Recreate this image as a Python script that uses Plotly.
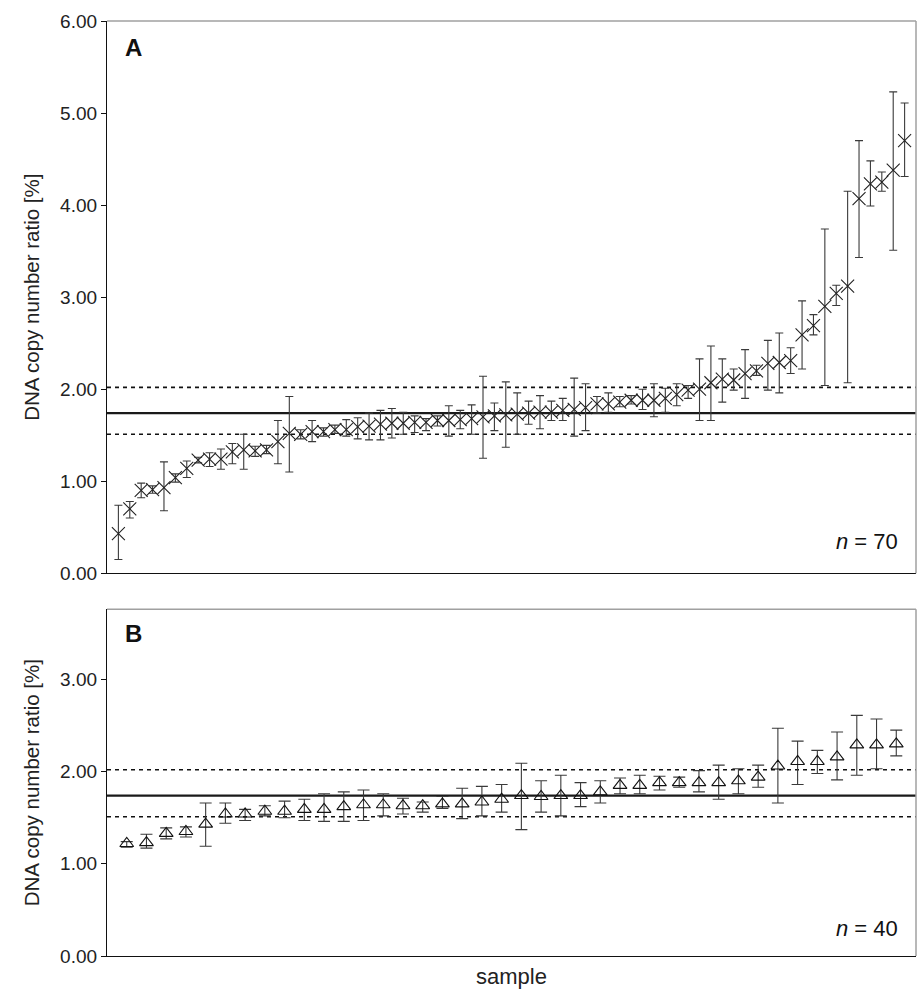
import plotly.graph_objects as go

# Panel A (n = 70): values and error bar ends (upper / lower)
a_vals = [0.43, 0.70, 0.90, 0.91, 0.93, 1.04, 1.14, 1.23, 1.24, 1.24,
          1.32, 1.34, 1.33, 1.34, 1.43, 1.52, 1.51, 1.54, 1.54, 1.56,
          1.56, 1.59, 1.60, 1.62, 1.63, 1.63, 1.64, 1.64, 1.66, 1.66,
          1.67, 1.68, 1.70, 1.71, 1.72, 1.73, 1.74, 1.75, 1.75, 1.77,
          1.78, 1.80, 1.84, 1.84, 1.86, 1.88, 1.88, 1.88, 1.90, 1.94,
          1.99, 2.00, 2.07, 2.11, 2.10, 2.17, 2.20, 2.28, 2.29, 2.31,
          2.59, 2.69, 2.90, 3.04, 3.12, 4.07, 4.23, 4.25, 4.38, 4.70]
a_hi = [0.74, 0.78, 0.98, 0.95, 1.21, 1.08, 1.22, 1.26, 1.31, 1.35,
        1.41, 1.51, 1.38, 1.39, 1.66, 1.92, 1.56, 1.66, 1.58, 1.61,
        1.67, 1.69, 1.74, 1.77, 1.79, 1.75, 1.71, 1.68, 1.71, 1.82,
        1.77, 1.83, 2.14, 1.85, 2.08, 1.96, 1.87, 1.93, 1.87, 1.90,
        2.12, 2.06, 1.92, 1.96, 1.92, 1.93, 2.00, 2.06, 2.01, 2.06,
        2.04, 2.33, 2.47, 2.33, 2.22, 2.43, 2.26, 2.53, 2.61, 2.45,
        2.96, 2.81, 3.74, 3.13, 4.15, 4.70, 4.48, 4.36, 5.23, 5.11]
a_lo = [0.15, 0.60, 0.82, 0.87, 0.68, 0.99, 1.04, 1.20, 1.16, 1.13,
        1.19, 1.13, 1.27, 1.30, 1.19, 1.10, 1.46, 1.43, 1.49, 1.52,
        1.49, 1.46, 1.45, 1.45, 1.47, 1.51, 1.53, 1.55, 1.60, 1.49,
        1.57, 1.51, 1.25, 1.55, 1.37, 1.51, 1.62, 1.57, 1.66, 1.66,
        1.49, 1.55, 1.74, 1.75, 1.81, 1.84, 1.78, 1.70, 1.75, 1.82,
        1.90, 1.66, 1.66, 1.86, 1.99, 1.90, 2.15, 1.99, 1.96, 2.17,
        2.22, 2.59, 2.04, 2.91, 2.07, 3.43, 3.99, 4.15, 3.51, 4.31]

# Panel B (n = 40)
b_vals = [1.22, 1.23, 1.33, 1.35, 1.43, 1.54, 1.54, 1.57, 1.57, 1.59,
          1.59, 1.62, 1.64, 1.64, 1.63, 1.63, 1.65, 1.65, 1.67, 1.70,
          1.74, 1.73, 1.74, 1.74, 1.78, 1.85, 1.85, 1.88, 1.88, 1.88,
          1.88, 1.90, 1.94, 2.06, 2.11, 2.11, 2.16, 2.29, 2.29, 2.30]
b_hi = [1.24, 1.32, 1.39, 1.40, 1.66, 1.66, 1.59, 1.63, 1.68, 1.70,
        1.76, 1.78, 1.80, 1.76, 1.71, 1.67, 1.73, 1.82, 1.84, 1.86,
        2.09, 1.90, 1.96, 1.88, 1.90, 1.93, 1.96, 1.95, 1.94, 2.01,
        2.07, 2.03, 2.07, 2.47, 2.33, 2.23, 2.43, 2.61, 2.57, 2.45]
b_lo = [1.18, 1.17, 1.27, 1.29, 1.19, 1.44, 1.47, 1.52, 1.50, 1.47,
        1.46, 1.46, 1.47, 1.52, 1.54, 1.56, 1.60, 1.49, 1.52, 1.56,
        1.37, 1.56, 1.52, 1.62, 1.66, 1.76, 1.76, 1.80, 1.83, 1.78,
        1.70, 1.76, 1.83, 1.66, 1.86, 1.98, 1.91, 1.96, 2.03, 2.17]

ref_mean = 1.74
ref_upper = 2.02
ref_lower = 1.51

a_x = list(range(1, len(a_vals) + 1))
b_x = list(range(1, len(b_vals) + 1))

FONT = "Liberation Sans, Arial, sans-serif"
ERRC = "#3a3a3a"

fig = go.Figure()

fig.add_trace(go.Scatter(
    x=a_x, y=a_vals, mode="markers", xaxis="x", yaxis="y",
    marker=dict(symbol="x-thin-open", size=13, color="#222",
                line=dict(color="#222", width=1.1)),
    error_y=dict(type="data", symmetric=False,
                 array=[h - v for h, v in zip(a_hi, a_vals)],
                 arrayminus=[v - l for l, v in zip(a_lo, a_vals)],
                 color=ERRC, thickness=1.1, width=4),
    showlegend=False))

fig.add_trace(go.Scatter(
    x=b_x, y=b_vals, mode="markers", xaxis="x2", yaxis="y2",
    marker=dict(symbol="triangle-up-open", size=12, color="#111",
                line=dict(color="#111", width=1.1)),
    error_y=dict(type="data", symmetric=False,
                 array=[h - v for h, v in zip(b_hi, b_vals)],
                 arrayminus=[v - l for l, v in zip(b_lo, b_vals)],
                 color=ERRC, thickness=1.1, width=6),
    showlegend=False))

shapes = []
for xr, yr in (("x", "y"), ("x2", "y2")):
    shapes.append(dict(type="line", xref=xr + " domain", yref=yr, x0=0, x1=1,
                       y0=ref_mean, y1=ref_mean,
                       line=dict(color="#1a1a1a", width=2.2), layer="below"))
    for v in (ref_upper, ref_lower):
        shapes.append(dict(type="line", xref=xr + " domain", yref=yr, x0=0, x1=1,
                           y0=v, y1=v,
                           line=dict(color="#111", width=1.6, dash="4px,4px"),
                           layer="below"))
    # grey top and right frame
    shapes.append(dict(type="line", xref=xr + " domain", yref=yr + " domain",
                       x0=0, x1=1, y0=1, y1=1,
                       line=dict(color="#a0a0a0", width=1.5)))
    shapes.append(dict(type="line", xref=xr + " domain", yref=yr + " domain",
                       x0=1, x1=1, y0=0, y1=1,
                       line=dict(color="#a0a0a0", width=1.5)))

yaxis_common = dict(
    showgrid=False, zeroline=False, showline=True, linecolor="#111", linewidth=1.3,
    ticks="outside", ticklen=5, tickcolor="#111", tickformat=".2f",
    tickfont=dict(family=FONT, size=19, color="#222"),
    title=dict(text="DNA copy number ratio [%]",
               font=dict(family=FONT, size=20.5, color="#222"), standoff=14),
)
xaxis_common = dict(
    showgrid=False, zeroline=False, showline=True, linecolor="#111", linewidth=1.3,
    ticks="", showticklabels=False,
)

fig.update_layout(
    width=918, height=994,
    margin=dict(l=107, r=2, t=21, b=38),
    paper_bgcolor="white", plot_bgcolor="white",
    font=dict(family=FONT, color="#222"),
    xaxis=dict(xaxis_common, range=[0, len(a_vals) + 1], anchor="y", domain=[0, 1]),
    yaxis=dict(yaxis_common, range=[0, 6], dtick=1, anchor="x", domain=[0.4093, 1]),
    xaxis2=dict(xaxis_common, range=[0, len(b_vals) + 1], anchor="y2", domain=[0, 1],
                title=dict(text="sample", font=dict(family=FONT, size=22, color="#222"),
                           standoff=12)),
    yaxis2=dict(yaxis_common, range=[0, 3.76], tickvals=[0, 1, 2, 3], anchor="x2",
                domain=[0, 0.3708]),
    shapes=shapes,
    annotations=[
        dict(text="<b>A</b>", xref="x domain", yref="y domain", x=0.02, y=0.952,
             xanchor="left", yanchor="middle", showarrow=False,
             font=dict(family=FONT, size=24, color="#111")),
        dict(text="<b>B</b>", xref="x2 domain", yref="y2 domain", x=0.02, y=0.93,
             xanchor="left", yanchor="middle", showarrow=False,
             font=dict(family=FONT, size=24, color="#111")),
        dict(text="<i>n</i> = 70", xref="x domain", yref="y domain", x=0.98, y=0.057,
             xanchor="right", yanchor="middle", showarrow=False,
             font=dict(family=FONT, size=22, color="#111")),
        dict(text="<i>n</i> = 40", xref="x2 domain", yref="y2 domain", x=0.98, y=0.08,
             xanchor="right", yanchor="middle", showarrow=False,
             font=dict(family=FONT, size=22, color="#111")),
    ],
)

fig.write_html("out.html")
